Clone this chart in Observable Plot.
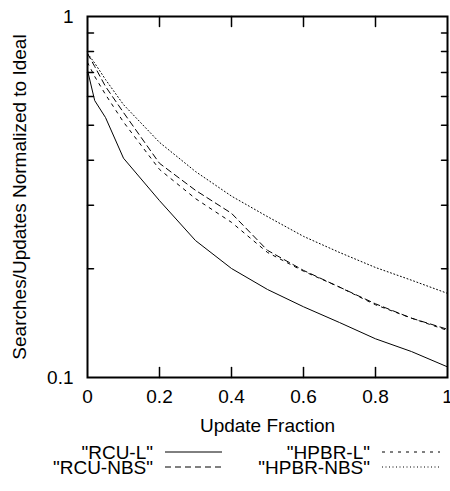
<!DOCTYPE html>
<html>
<head>
<meta charset="utf-8">
<script src="https://cdn.jsdelivr.net/npm/d3@7"></script>
<script src="https://cdn.jsdelivr.net/npm/@observablehq/plot@0.6"></script>
<style>
  body { margin: 0; background: #fff; }
  #wrap { width: 450px; height: 491px; background: #fff; font-family: "Liberation Sans", Arial, sans-serif; }
  #wrap svg { display: block; }
</style>
</head>
<body>
<div id="wrap"></div>
<script>
// ---- data ----
const updateFraction = [0, 0.02, 0.05, 0.1, 0.2, 0.3, 0.4, 0.5, 0.6, 0.7, 0.8, 0.9, 1.0];
const rcuL     = [0.71, 0.585, 0.525, 0.405, 0.309, 0.2395, 0.2004, 0.1753, 0.157, 0.142, 0.128, 0.118, 0.107];
const rcuNBS   = [0.79, 0.727, 0.640, 0.542, 0.392, 0.330, 0.285, 0.225, 0.198, 0.178, 0.160, 0.146, 0.136];
const hpbrL    = [0.746, 0.682, 0.608, 0.510, 0.377, 0.313, 0.269, 0.222, 0.197, 0.178, 0.159, 0.146, 0.135];
const hpbrNBS  = [0.79, 0.743, 0.669, 0.570, 0.448, 0.372, 0.318, 0.279, 0.246, 0.222, 0.2017, 0.186, 0.171];

const seriesNames = ['"RCU-L"', '"RCU-NBS"', '"HPBR-L"', '"HPBR-NBS"'];
const seriesValues = [rcuL, rcuNBS, hpbrL, hpbrNBS];
const seriesDash = [null, "6,4", "3,5", "1,2.5"];

const xTickValues = [0, 0.2, 0.4, 0.6, 0.8, 1];
const xInnerTicks = [0.2, 0.4, 0.6, 0.8];
const yTickValues = [0.1, 1];
const yMinorTicks = [0.2, 0.3, 0.4, 0.5, 0.6, 0.7, 0.8, 0.9];

const xLabel = "Update Fraction";
const yLabel = "Searches/Updates Normalized to Ideal";

// ---- build table ----
const rows = [];
seriesNames.forEach((name, i) => {
  updateFraction.forEach((f, j) => rows.push({series: name, f, v: seriesValues[i][j]}));
});

const tickShape = {draw(context, l) { context.moveTo(0, 0); context.lineTo(0, -l); }};

const lineMarks = seriesNames.map((name, i) =>
  Plot.line(rows.filter(d => d.series === name), {
    x: "f", y: "v", stroke: "black", strokeWidth: 1,
    strokeDasharray: seriesDash[i] ?? undefined
  })
);

const chart = Plot.plot({
  width: 450,
  height: 440,
  marginLeft: 87,
  marginRight: 3,
  marginTop: 16,
  marginBottom: 63,
  style: {fontFamily: '"Liberation Sans", Arial, sans-serif', fontSize: "19px", color: "black", background: "white"},
  x: {domain: [0, 1]},
  y: {type: "log", domain: [0.1, 1]},
  marks: [
    ...lineMarks,
    // inward ticks
    Plot.vector(xInnerTicks, {x: d => d, frameAnchor: "bottom", rotate: 0, length: 10, anchor: "start", shape: tickShape, stroke: "black", strokeWidth: 1.5}),
    Plot.vector(xInnerTicks, {x: d => d, frameAnchor: "top", rotate: 180, length: 10, anchor: "start", shape: tickShape, stroke: "black", strokeWidth: 1.5}),
    Plot.vector(yMinorTicks, {y: d => d, frameAnchor: "left", rotate: 90, length: 6, anchor: "start", shape: tickShape, stroke: "black", strokeWidth: 1.5}),
    Plot.vector(yMinorTicks, {y: d => d, frameAnchor: "right", rotate: -90, length: 6, anchor: "start", shape: tickShape, stroke: "black", strokeWidth: 1.5}),
    Plot.axisX(xTickValues, {tickSize: 0, tickPadding: 12, tickFormat: d => String(d), label: xLabel, labelAnchor: "center", labelArrow: "none", labelOffset: 54}),
    Plot.axisY(yTickValues, {tickSize: 0, tickPadding: 14, tickFormat: d => String(d), label: yLabel, labelAnchor: "center", labelArrow: "none", labelOffset: 75}),
    Plot.frame({stroke: "black", strokeWidth: 2})
  ]
});

const wrap = document.getElementById("wrap");
wrap.appendChild(chart);

// ---- legend below the chart ----
const legend = d3.create("svg").attr("width", 450).attr("height", 51)
  .style("font-family", '"Liberation Sans", Arial, sans-serif').style("font-size", "19px");
const legendPos = [
  {tx: 153, lx1: 165, lx2: 222, y: 12},
  {tx: 153, lx1: 165, lx2: 222, y: 27},
  {tx: 370, lx1: 382, lx2: 440, y: 12},
  {tx: 370, lx1: 382, lx2: 440, y: 27}
];
seriesNames.forEach((name, i) => {
  const p = legendPos[i];
  legend.append("text").attr("x", p.tx).attr("y", p.y).attr("dy", "0.35em")
    .attr("text-anchor", "end").attr("fill", "black").text(name);
  legend.append("line").attr("x1", p.lx1).attr("x2", p.lx2).attr("y1", p.y).attr("y2", p.y)
    .attr("stroke", "black").attr("stroke-width", 1)
    .attr("stroke-dasharray", seriesDash[i]);
});
wrap.appendChild(legend.node());
</script>
</body>
</html>
